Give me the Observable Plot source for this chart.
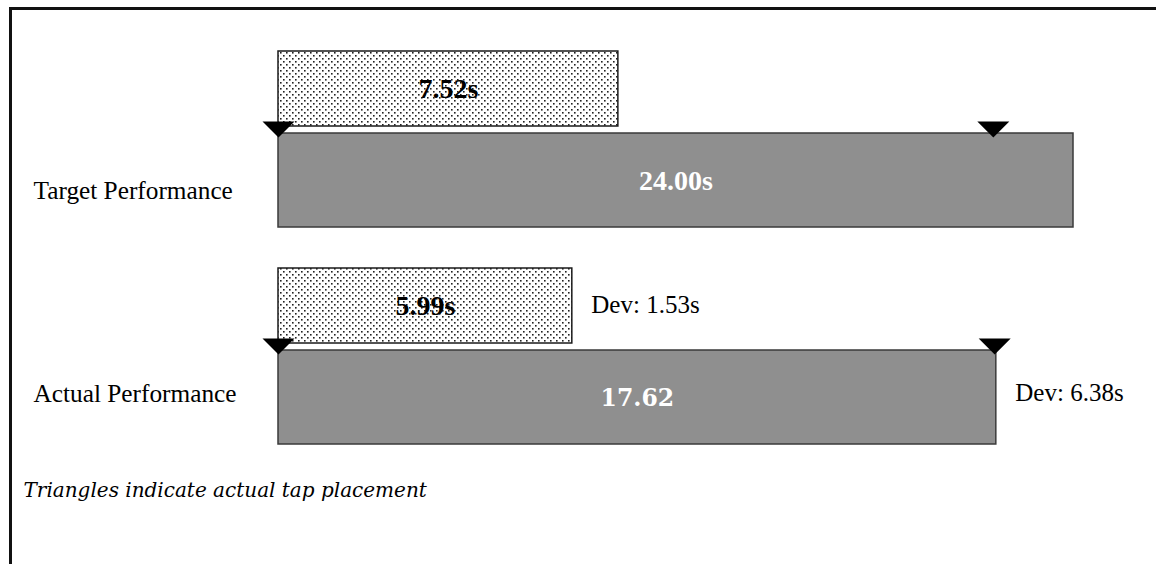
<!DOCTYPE html>
<html>
<head>
<meta charset="utf-8">
<script src="https://cdn.jsdelivr.net/npm/d3@7"></script>
<script src="https://cdn.jsdelivr.net/npm/@observablehq/plot@0.6"></script>
<style>
  html, body { margin: 0; padding: 0; background: #fff; }
  #wrap { position: relative; width: 1156px; height: 564px; overflow: hidden; }
  #frame { position: absolute; left: 9px; top: 7px; width: 1160px; height: 570px;
           border-top: 3px solid #111; border-left: 3px solid #111; box-sizing: border-box; pointer-events: none; }
  #chart { position: absolute; left: 0; top: 0; }
</style>
</head>
<body>
<div id="wrap"><div id="chart"></div><div id="frame"></div></div>
<script>
// ---- data (bar lengths are schematic, on the target-time scale) ----
const rows = ["Target Performance", "Actual Performance"];
const totalLabels = ["24.00s", "17.62"];
const reactionLabels = ["7.52s", "5.99s"];
const totalBarEnd = [24, 21.67];        // drawn length of the grey bars
const reactionBarEnd = [10.26, 8.87];   // drawn length of the dotted bars
const tapStart = [0, 0];                // left triangles
const tapEnd = [21.58, 21.62];          // right triangles
const reactionDev = [null, "Dev: 1.53s"];
const totalDev = [null, "Dev: 6.38s"];
const caption = "Triangles indicate actual tap placement";

const table = rows.map((row, i) => ({
  row,
  total: totalBarEnd[i],
  reaction: reactionBarEnd[i],
  totalLabel: totalLabels[i],
  reactionLabel: reactionLabels[i],
  reactionDev: reactionDev[i],
  totalDev: totalDev[i]
}));
const taps = rows.flatMap((row, i) => [{row, x: tapStart[i]}, {row, x: tapEnd[i]}]);

const tapSymbol = {
  draw(ctx, size) {
    const r = Math.sqrt(size / Math.PI);
    ctx.moveTo(0, 0);
    ctx.lineTo(-r, -r);
    ctx.lineTo(r, -r);
    ctx.closePath();
  }
};

const serif = "Liberation Serif, Times New Roman, serif";

const plot = Plot.plot({
  width: 1156,
  height: 564,
  marginTop: 0, marginRight: 0, marginBottom: 0, marginLeft: 0,
  x: {domain: [0, 24], range: [278, 1073], axis: null},
  y: {type: "band", domain: rows, range: [50, 445], paddingInner: 0.188, paddingOuter: 0, axis: null},
  marks: [
    // grey total bars
    Plot.barX(table, {x1: 0, x2: "total", y: "row", insetTop: 82, insetBottom: 0,
      fill: "#8f8f8f", stroke: "#3a3a3a", strokeWidth: 1.5}),
    // dotted reaction bars
    Plot.barX(table, {x1: 0, x2: "reaction", y: "row", insetTop: 0, insetBottom: 101,
      fill: "url(#dots)", stroke: "#1a1a1a", strokeWidth: 1.5}),
    // tap triangles
    Plot.dot(taps, {x: "x", y: "row", symbol: tapSymbol, r: 16, fill: "#000", stroke: "none", dy: -2}),
    // bar value labels
    Plot.text(table, {x: d => d.reaction / 2, y: "row", text: "reactionLabel", dy: -50,
      fontFamily: serif, fontWeight: "bold", fontSize: 28, fill: "#000"}),
    Plot.text(table.filter(d => d.row === rows[0]), {x: d => d.total / 2, y: "row", text: "totalLabel", dy: 42,
      fontFamily: serif, fontWeight: "bold", fontSize: 28, fill: "#fff"}),
    Plot.text(table.filter(d => d.row === rows[1]), {x: d => d.total / 2, y: "row", text: "totalLabel", dy: 42,
      fontFamily: "DejaVu Serif", fontWeight: "bold", fontSize: 23.5, fill: "#fff"}),
    // deviation labels
    Plot.text(table.filter(d => d.reactionDev), {x: "reaction", y: "row", text: "reactionDev", dx: 19, dy: -51.5,
      textAnchor: "start", fontFamily: serif, fontSize: 25, fill: "#000"}),
    Plot.text(table.filter(d => d.totalDev), {x: "total", y: "row", text: "totalDev", dx: 19, dy: 36,
      textAnchor: "start", fontFamily: serif, fontSize: 25, fill: "#000"}),
    // row labels
    Plot.text(table.filter(d => d.row === rows[0]), {y: "row", text: "row", frameAnchor: "left", dx: 33, dy: 51,
      textAnchor: "start", fontFamily: serif, fontSize: 25.3, fill: "#000"}),
    Plot.text(table.filter(d => d.row === rows[1]), {y: "row", text: "row", frameAnchor: "left", dx: 33, dy: 37,
      textAnchor: "start", fontFamily: serif, fontSize: 25.3, fill: "#000"}),
    // caption
    Plot.text([caption], {text: d => d, frameAnchor: "top-left", dx: 23, dy: 482,
      textAnchor: "start", fontFamily: "DejaVu Serif", fontStyle: "italic", fontSize: 20, fill: "#000"})
  ]
});

// dotted fill pattern
const svg = d3.select(plot);
const defs = svg.insert("defs", ":first-child");
const pat = defs.append("pattern").attr("id", "dots").attr("patternUnits", "userSpaceOnUse")
  .attr("width", 6).attr("height", 6);
pat.append("rect").attr("width", 6).attr("height", 6).attr("fill", "#fff");
pat.append("rect").attr("x", 1).attr("y", 1).attr("width", 1.6).attr("height", 1.6).attr("fill", "#222");
pat.append("rect").attr("x", 4).attr("y", 4).attr("width", 1.6).attr("height", 1.6).attr("fill", "#222");

document.getElementById("chart").appendChild(plot);
</script>
</body>
</html>
